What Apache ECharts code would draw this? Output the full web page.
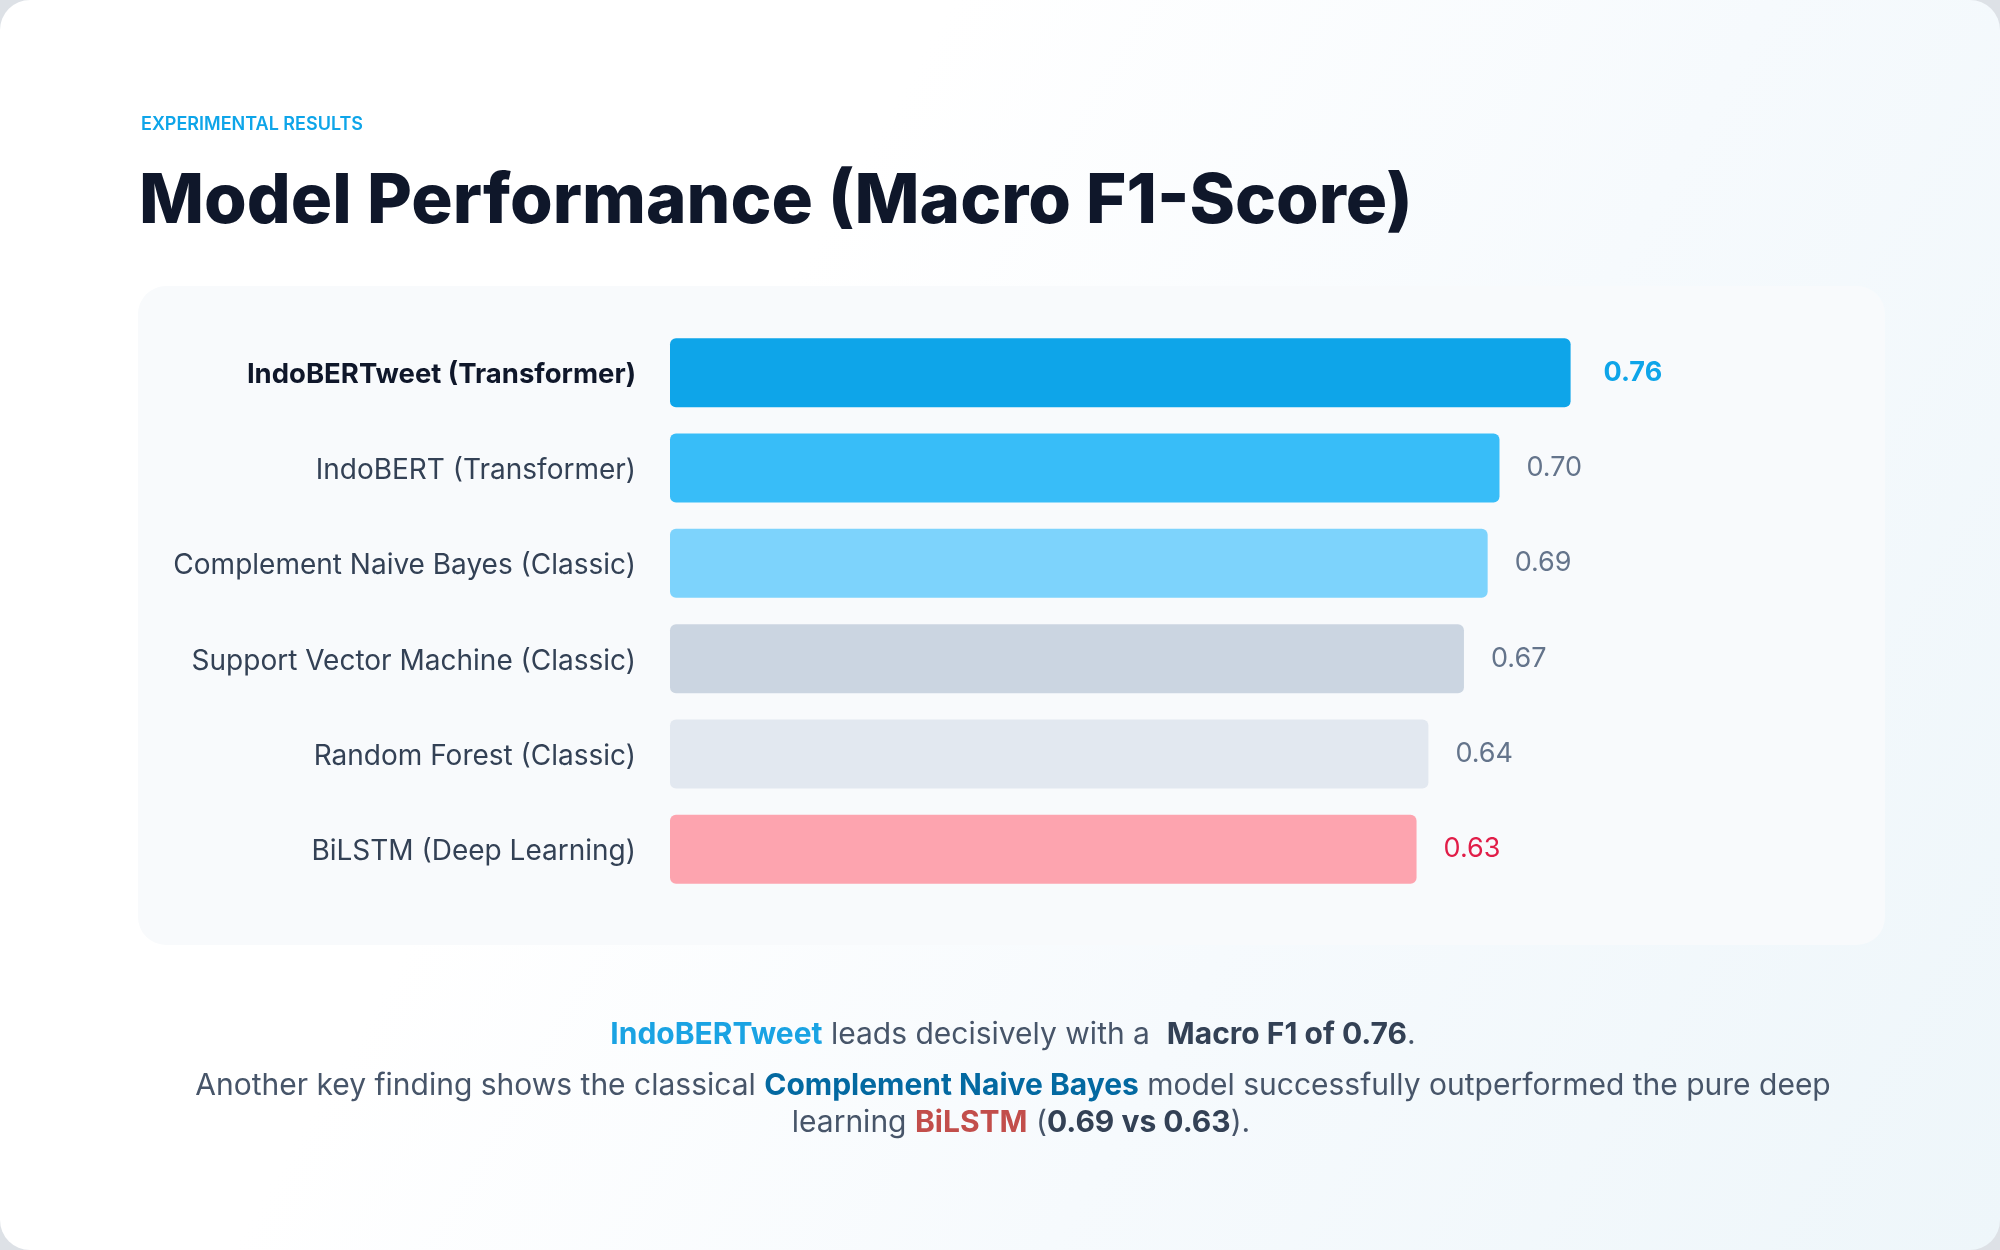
<!DOCTYPE html>
<html>
<head>
<meta charset="utf-8">
<script src="https://cdn.jsdelivr.net/npm/echarts@6/dist/echarts.min.js"></script>
<style>
  html, body { margin: 0; padding: 0; background: #dde1e6; }
  #card {
    width: 2000px; height: 1250px; border-radius: 30px; overflow: hidden;
    background: linear-gradient(120deg, #ffffff 35%, #f6fafd 65%, #eef6fa 100%);
  }
  #chart { width: 2000px; height: 1250px; }
</style>
</head>
<body>
<div id="card"><div id="chart"></div></div>
<script>
var models = [
  'IndoBERTweet (Transformer)',
  'IndoBERT (Transformer)',
  'Complement Naive Bayes (Classic)',
  'Support Vector Machine (Classic)',
  'Random Forest (Classic)',
  'BiLSTM (Deep Learning)'
];
var f1Scores = [0.76, 0.70, 0.69, 0.67, 0.64, 0.63];
var barColors = ['#0ea5e9', '#38bdf8', '#7dd3fc', '#cbd5e1', '#e2e8f0', '#fda4af'];
var labelColors = ['#0ea5e9', '#64748b', '#64748b', '#64748b', '#64748b', '#e11d48'];

var dom = document.getElementById('chart');
var myChart = echarts.init(dom);
var option = null;

var FONT = 'Inter, "Noto Sans", sans-serif';

var barData = f1Scores.map(function (v, i) {
  return {
    value: v,
    itemStyle: { color: barColors[i] },
    label: {
      color: labelColors[i],
      fontWeight: i === 0 ? 'bold' : 'normal',
      distance: i === 0 ? 33 : 27
    }
  };
});

option = {
  animation: false,
  textStyle: { fontFamily: FONT },
  title: [
    {
      text: 'EXPERIMENTAL RESULTS',
      left: 136, top: 108,
      textStyle: { fontFamily: FONT, fontSize: 18, fontWeight: 600, color: '#0ea5e9', lineHeight: 24 }
    },
    {
      text: 'Model Performance (Macro F1-Score)',
      left: 134, top: 155,
      textStyle: { fontFamily: FONT, fontSize: 69, fontWeight: 800, color: '#0f172a', lineHeight: 84 }
    }
  ],
  grid: { left: 670, right: 145, top: 325, height: 572, containLabel: false },
  xAxis: {
    type: 'value', min: 0, max: 1, show: false
  },
  yAxis: {
    type: 'category',
    inverse: true,
    data: models,
    axisLine: { show: false },
    axisTick: { show: false },
    splitLine: { show: false },
    axisLabel: {
      margin: 34,
      fontSize: 28,
      color: '#334155',
      fontFamily: FONT,
      padding: [5, 0, 0, 0],
      formatter: function (v, i) {
        return i === 0 ? '{top|' + v + '}' : v;
      },
      rich: {
        top: { fontSize: 27.5, fontWeight: 'bold', color: '#0f172a', fontFamily: FONT }
      }
    }
  },
  series: [
    {
      name: 'Macro F1',
      type: 'bar',
      barWidth: 69,
      itemStyle: { borderRadius: 6 },
      label: {
        show: true,
        position: 'right',
        fontSize: 27,
        fontFamily: FONT,
        padding: [3, 0, 0, 0],
        formatter: function (p) { return p.value.toFixed(2); }
      },
      data: barData,
      z: 3
    }
  ],
  graphic: [
    {
      type: 'rect', z: -10, silent: true,
      shape: { x: 138, y: 286, width: 1747, height: 659, r: 28 },
      style: { fill: '#f8fafc' }
    },
    {
      type: 'text', x: 1013, y: 1035,
      style: {
        text: '{b1|IndoBERTweet} leads decisively with a  {b2|Macro F1 of 0.76}.',
        align: 'center', verticalAlign: 'middle',
        fontSize: 30, fontFamily: FONT, fill: '#475569',
        rich: {
          b1: { fontSize: 30, fontWeight: 'bold', fill: '#1aa3e3', fontFamily: FONT },
          b2: { fontSize: 30, fontWeight: 'bold', fill: '#334155', fontFamily: FONT }
        }
      }
    },
    {
      type: 'text', x: 1013, y: 1086,
      style: {
        text: 'Another key finding shows the classical {b3|Complement Naive Bayes} model successfully outperformed the pure deep',
        align: 'center', verticalAlign: 'middle',
        fontSize: 30, fontFamily: FONT, fill: '#475569',
        rich: {
          b3: { fontSize: 30, fontWeight: 'bold', fill: '#0369a1', fontFamily: FONT }
        }
      }
    },
    {
      type: 'text', x: 1021, y: 1123,
      style: {
        text: 'learning {b4|BiLSTM} ({b2|0.69 vs 0.63}).',
        align: 'center', verticalAlign: 'middle',
        fontSize: 30, fontFamily: FONT, fill: '#475569',
        rich: {
          b4: { fontSize: 30, fontWeight: 'bold', fill: '#c24e4b', fontFamily: FONT },
          b2: { fontSize: 30, fontWeight: 'bold', fill: '#334155', fontFamily: FONT }
        }
      }
    }
  ]
};

if (option && typeof option === 'object') {
  myChart.setOption(option, true);
}
</script>
</body>
</html>
